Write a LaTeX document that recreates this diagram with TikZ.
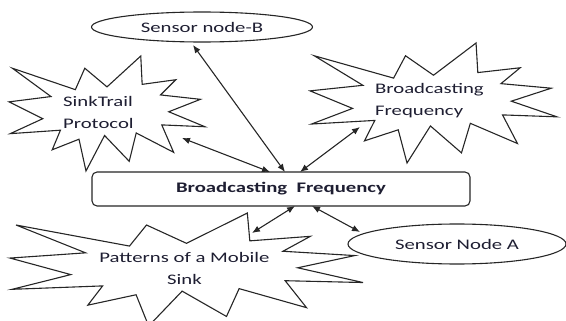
\documentclass[tikz,border=0pt]{standalone}
\usepackage{fontspec}
\usetikzlibrary{arrows.meta,shapes.geometric}
\newfontfamily\calw[FakeStretch=1.42]{Carlito}
\definecolor{txt}{HTML}{1E1E32}
\definecolor{ln}{HTML}{262626}
\newcommand\sealpath{(0.5,0.2685) -- (0.6723,0) -- (0.6794,0.2465) -- (0.8509,0.2064) -- (0.7732,0.3386) -- (0.9767,0.3767) -- (0.8151,0.4849) -- (1,0.6153) -- (0.7795,0.5992) -- (0.84,0.8377) -- (0.6491,0.6693) -- (0.6133,0.9156) -- (0.4876,0.6914) -- (0.3928,1) -- (0.3572,0.7235) -- (0.2205,0.8156) -- (0.2624,0.6452) -- (0.00625,0.6753) -- (0.1723,0.5451) -- (0,0.3988) -- (0.2142,0.3526) -- (0.0171,0.1063) -- (0.3385,0.2926) -- (0.3867,0.1063) -- cycle}
\tikzset{
  sealstyle/.style={draw=ln, line width=1.1pt, fill=white, line join=miter},
  lbl/.style={font=\calw\fontsize{14.6}{22}\selectfont, text=txt, inner sep=0pt},
  ell/.style={ellipse, draw=ln, line width=1.1pt, fill=white, inner sep=0pt, font=\calw\fontsize{14.6}{22}\selectfont, text=txt},
  boxstyle/.style={rectangle, rounded corners=5pt, draw=ln, line width=1.1pt, fill=white, inner sep=0pt, font=\calw\fontsize{14.6}{22}\selectfont, text=txt},
  conn/.style={{Latex[length=8pt,width=6.5pt]}-{Latex[length=8pt,width=6.5pt]}, line width=1.1pt, draw=ln}
}
\begin{document}
\begin{tikzpicture}[x=1pt,y=-1pt]
\useasboundingbox (0,0) rectangle (566,321);
% starbursts
\begin{scope}[shift={(9,56)},xscale=196,yscale=115]
\draw[sealstyle] \sealpath;
\end{scope}
\begin{scope}[shift={(310,43)},xscale=247,yscale=120]
\draw[sealstyle] \sealpath;
\end{scope}
\begin{scope}[shift={(10,213)},xscale=353,yscale=113]
\draw[sealstyle] \sealpath;
\end{scope}
\node[lbl, anchor=west, align=left] (tSink) at (63,112.5) {SinkTrail\\Protocol};
\node[lbl, anchor=west, align=left] (tBF) at (375,100.5) {Broadcasting\\Frequency};
\node[lbl, align=center] (tPat) at (184.5,268) {Patterns of a Mobile\\Sink};
% ellipses and box
\node[ell, minimum width=221pt, minimum height=30pt] (sb) at (202,27) {Sensor node-B};
\node[ell, minimum width=218pt, minimum height=40pt] (sa) at (457,244) {Sensor Node A};
\node[boxstyle, minimum width=378pt, minimum height=34pt] (bf) at (281,189) {\bfseries Broadcasting\ \ Frequency};
% connector ends
\coordinate (pSink) at (182,138);
\coordinate (pB) at (193,45);
\coordinate (pBF) at (360,127);
\coordinate (pPat) at (252,233);
\coordinate (pA) at (360,232);
\coordinate (r1) at (270,172);
\coordinate (r2) at (285,172);
\coordinate (r3) at (300,172);
\coordinate (r4) at (295,206);
\coordinate (r5) at (312,206);
\draw[conn] (pSink) -- (r1);
\draw[conn] (pB) -- (r2);
\draw[conn] (pBF) -- (r3);
\draw[conn] (r4) -- (pPat);
\draw[conn] (r5) -- (pA);
\end{tikzpicture}
\end{document}
